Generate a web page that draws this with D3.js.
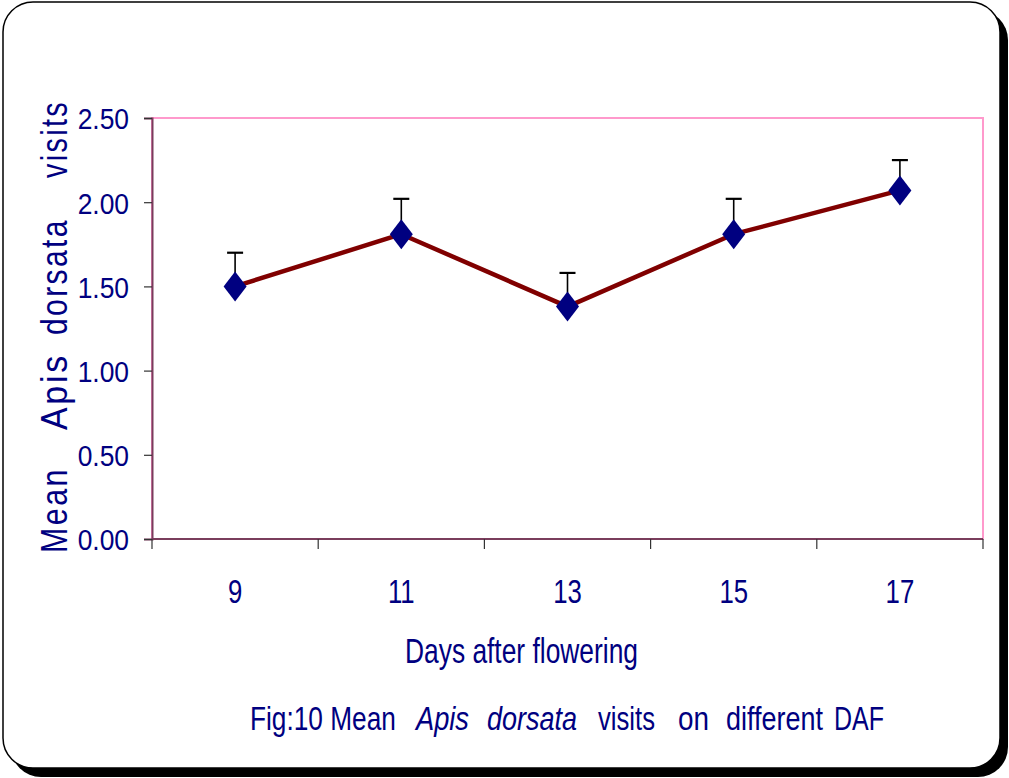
<!DOCTYPE html>
<html>
<head>
<meta charset="utf-8">
<script src="https://cdn.jsdelivr.net/npm/d3@7"></script>
<style>
  body { margin: 0; background: #fff; }
  text { font-family: "Liberation Sans", Arial, sans-serif; fill: #000080; }
</style>
</head>
<body>
<div class="chart"></div>
<script>
// data
var days = ["9", "11", "13", "15", "17"]
var meanVisits = [1.50, 1.81, 1.38, 1.81, 2.07]
var errorUp = [0.20, 0.21, 0.20, 0.21, 0.18]
var yTicks = [0, 0.5, 1.0, 1.5, 2.0, 2.5]

var W = 1009, H = 778
var plot = {left: 152, top: 118, right: 983, bottom: 539}

var svg = d3.select(".chart")
  .append("svg")
    .attr("width", W)
    .attr("height", H)

// condensed look: squeeze text horizontally with a transform
// pre is the transform put before the scale, width(d) the width wanted
function squeeze (sel, pre, width) {
  sel.each(function (d, i) {
    var w = this.getComputedTextLength()
    var k = width(d, i, w) / w
    d3.select(this).attr("transform", pre(d, i) + " scale(" + k + ",1)")
  })
}

// frame + shadow
svg.append("rect")
  .attr("x", 11).attr("y", 10)
  .attr("width", 997).attr("height", 767)
  .attr("rx", 30)
  .style("fill", "#000")
svg.append("rect")
  .attr("x", 3).attr("y", 2)
  .attr("width", 997).attr("height", 766)
  .attr("rx", 30)
  .style("fill", "#fff")
  .style("stroke", "#000")
  .style("stroke-width", 1.5)

var x = d3.scaleBand()
  .domain(days)
  .range([plot.left, plot.right])

var y = d3.scaleLinear()
  .domain([0, 2.5])
  .range([plot.bottom, plot.top])

// plot area border
svg.append("rect")
  .attr("x", plot.left).attr("y", plot.top)
  .attr("width", plot.right - plot.left)
  .attr("height", plot.bottom - plot.top)
  .style("fill", "none")
  .style("stroke", "#ff99cc")
  .style("stroke-width", 2)

// y axis
var yAxis = svg.append("g")
  .attr("transform", "translate(" + plot.left + ",0)")
  .call(d3.axisLeft(y).tickValues(yTicks).tickFormat(d3.format(".2f")).tickSize(8))
yAxis.select(".domain").style("stroke", "#7a3d5c").style("stroke-width", 2)
yAxis.selectAll(".tick line").style("stroke", "#333").style("stroke-width", 1.2)
yAxis.selectAll(".tick text")
  .attr("x", 0)
  .attr("dy", "0.36em")
  .style("font-size", "30px")
  .call(squeeze, function () { return "translate(-23,0)" }, function (d, i, w) { return w * 0.88 })

// x axis: ticks sit on category boundaries
var xAxis = svg.append("g")
  .attr("transform", "translate(0," + plot.bottom + ")")
  .call(d3.axisBottom(x).tickSize(0))
xAxis.select(".domain").remove()
xAxis.selectAll(".tick text")
  .attr("y", 0)
  .attr("dy", "0.36em")
  .style("font-size", "33px")
  .call(squeeze, function () { return "translate(0,52)" }, function (d, i, w) { return w * 0.78 })
svg.append("line")
  .attr("x1", plot.left).attr("x2", plot.right)
  .attr("y1", plot.bottom).attr("y2", plot.bottom)
  .style("stroke", "#7a3d5c")
  .style("stroke-width", 2)
var bounds = days.map(function (d) { return x(d) }).concat([x(days[days.length - 1]) + x.bandwidth()])
svg.selectAll(".xtick")
  .data(bounds)
  .enter()
  .append("line")
    .attr("class", "xtick")
    .attr("x1", function (d) { return d }).attr("x2", function (d) { return d })
    .attr("y1", plot.bottom).attr("y2", plot.bottom + 10)
    .style("stroke", "#333")
    .style("stroke-width", 1.2)

var cx = function (d, i) { return x(days[i]) + x.bandwidth() / 2 }

// error bars (upper only)
svg.selectAll(".err")
  .data(meanVisits)
  .enter()
  .append("line")
    .attr("class", "err")
    .attr("x1", cx).attr("x2", cx)
    .attr("y1", function (d) { return y(d) })
    .attr("y2", function (d, i) { return y(d + errorUp[i]) })
    .style("stroke", "#000")
    .style("stroke-width", 1.6)
svg.selectAll(".cap")
  .data(meanVisits)
  .enter()
  .append("line")
    .attr("class", "cap")
    .attr("x1", function (d, i) { return cx(d, i) - 8 })
    .attr("x2", function (d, i) { return cx(d, i) + 8 })
    .attr("y1", function (d, i) { return y(d + errorUp[i]) })
    .attr("y2", function (d, i) { return y(d + errorUp[i]) })
    .style("stroke", "#000")
    .style("stroke-width", 2.2)

// line
var line = d3.line()
  .x(cx)
  .y(function (d) { return y(d) })
svg.append("path")
  .datum(meanVisits)
  .attr("d", line)
  .style("fill", "none")
  .style("stroke", "#800000")
  .style("stroke-width", 4.5)
  .style("stroke-linejoin", "round")

// diamond markers
svg.selectAll(".mark")
  .data(meanVisits)
  .enter()
  .append("path")
    .attr("class", "mark")
    .attr("d", "M0,-15L11.5,0L0,15L-11.5,0Z")
    .attr("transform", function (d, i) { return "translate(" + cx(d, i) + "," + y(d) + ")" })
    .style("fill", "#000080")

// y title, word by word (letters spaced out): [word, from y, to y]
var yTitle = [["Mean", 553, 467], ["Apis", 430, 353], ["dorsata", 335, 218], ["visits", 178, 100]]
svg.selectAll(".ytitle")
  .data(yTitle)
  .enter()
  .append("text")
    .attr("class", "ytitle")
    .style("font-size", "37px")
    .style("letter-spacing", "3px")
    .text(function (d) { return d[0] })
    .call(squeeze,
      function (d) { return "translate(67," + d[1] + ") rotate(-90)" },
      function (d) { return d[1] - d[2] })

var xTitle = svg.append("text")
  .style("font-size", "36px")
  .text("Days after flowering")
  .call(squeeze, function () { return "translate(405,663)" }, function () { return 233 })

// caption pieces: [text, from x, to x, italic]
var caption = [
  ["Fig:10 Mean", 250, 396, false],
  ["Apis", 416, 469, true],
  ["dorsata", 487, 577, true],
  ["visits", 598, 655, false],
  ["on", 678, 709, false],
  ["different", 726, 823, false],
  ["DAF", 834, 884, false]
]
svg.selectAll(".cap-text")
  .data(caption)
  .enter()
  .append("text")
    .attr("class", "cap-text")
    .style("font-size", "34px")
    .style("font-style", function (d) { return d[3] ? "italic" : "normal" })
    .text(function (d) { return d[0] })
    .call(squeeze,
      function (d) { return "translate(" + d[1] + ",730)" },
      function (d) { return d[2] - d[1] })
</script>
</body>
</html>
